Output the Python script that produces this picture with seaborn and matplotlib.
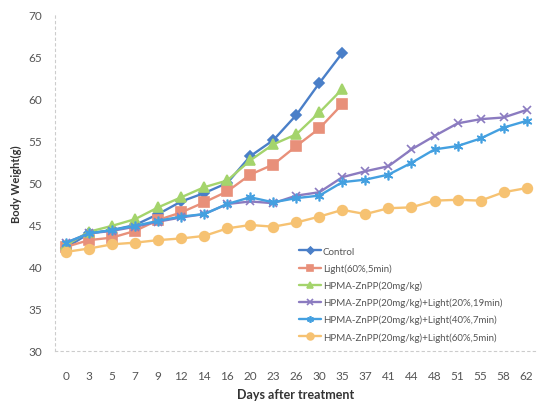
import numpy as np
import pandas as pd
import matplotlib
matplotlib.use("Agg")
import matplotlib.pyplot as plt
import seaborn as sns

days = [0, 3, 5, 7, 9, 12, 14, 16, 20, 23, 26, 30, 35, 37, 41, 44, 48, 51, 55, 58, 62]

series_names = [
    "Control",
    "Light(60%,5min)",
    "HPMA-ZnPP(20mg/kg)",
    "HPMA-ZnPP(20mg/kg)+Light(20%,19min)",
    "HPMA-ZnPP(20mg/kg)+Light(40%,7min)",
    "HPMA-ZnPP(20mg/kg)+Light(60%,5min)",
]

control = [42.3, 44.0, 44.4, 45.0, 46.3, 47.8, 48.8, 50.0, 53.2, 55.1, 58.1, 61.9, 65.5]
light = [42.4, 43.2, 43.5, 44.3, 45.6, 46.5, 47.7, 49.0, 51.0, 52.2, 54.4, 56.5, 59.4]
hpma = [42.6, 44.2, 44.9, 45.7, 47.1, 48.3, 49.5, 50.3, 52.7, 54.6, 55.8, 58.4, 61.2]
hpma_l20 = [42.9, 44.0, 44.3, 44.8, 45.4, 45.9, 46.3, 47.5, 47.8, 47.6, 48.5, 48.9, 50.7,
            51.4, 52.0, 54.0, 55.6, 57.1, 57.6, 57.8, 58.7]
hpma_l40 = [42.9, 44.0, 44.4, 44.9, 45.5, 46.0, 46.3, 47.5, 48.3, 47.7, 48.2, 48.5, 50.1,
            50.4, 51.0, 52.4, 54.0, 54.4, 55.3, 56.6, 57.4]
hpma_l60 = [41.8, 42.2, 42.7, 42.9, 43.2, 43.4, 43.7, 44.6, 45.0, 44.8, 45.3, 46.0, 46.8,
            46.3, 47.0, 47.1, 47.9, 48.0, 47.9, 48.9, 49.4]

values = [control, light, hpma, hpma_l20, hpma_l40, hpma_l60]
colors = ["#4A7FC8", "#E8907A", "#A4D46C", "#8B7BC0", "#44A0E0", "#F6C272"]
markers = ["D", "s", "^", "x", (6, 2, 0), "o"]
msizes = [5, 6.5, 6.5, 6, 7, 7]

sns.set_theme(style="white")
plt.rcParams["font.family"] = ["Lato", "DejaVu Sans"]

fig = plt.figure(figsize=(5.37, 4.02), dpi=100)
ax = fig.add_axes([55 / 537, 1 - 352 / 402, 1 - 55 / 537, (352 - 16) / 402])

for name, vals, c, m, ms in zip(series_names, values, colors, markers, msizes):
    df = pd.DataFrame({"pos": np.arange(len(vals)), "w": vals})
    sns.lineplot(data=df, x="pos", y="w", ax=ax, color=c, marker=m, markersize=ms,
                 markeredgecolor=c, markeredgewidth=1.2, linewidth=1.7, label=name)

ax.set_xlim(-0.48, 20.45)
ax.set_ylim(30, 70)
ax.set_xticks(np.arange(len(days)))
ax.set_xticklabels([str(d) for d in days])
ax.set_yticks(np.arange(30, 71, 5))
ax.tick_params(axis="x", length=0, pad=14, labelsize=8.5, labelcolor="#555555")
ax.tick_params(axis="y", length=0, pad=9, labelsize=8.5, labelcolor="#555555")
ax.grid(False)

for s in ["top", "right"]:
    ax.spines[s].set_visible(False)
for s in ["left", "bottom"]:
    ax.spines[s].set_visible(True)
    ax.spines[s].set_color("#cccccc")
    ax.spines[s].set_linestyle((0, (2, 3)))
    ax.spines[s].set_linewidth(0.8)

ax.set_xlabel("Days after treatment", fontsize=9, fontweight="bold", color="#333333", labelpad=5)
ax.set_ylabel("Body Weight(g)", fontsize=8, fontweight="bold", color="#333333", labelpad=5)

leg = ax.legend(loc="upper left", bbox_to_anchor=(240 / 482, 1 - (244 - 16) / 336),
                frameon=False, fontsize=7, handlelength=2.3, handletextpad=0.15,
                labelspacing=0.78, borderaxespad=0, markerscale=0.7)
for t in leg.get_texts():
    t.set_color("#555555")

fig.savefig("out.png", dpi=100)
